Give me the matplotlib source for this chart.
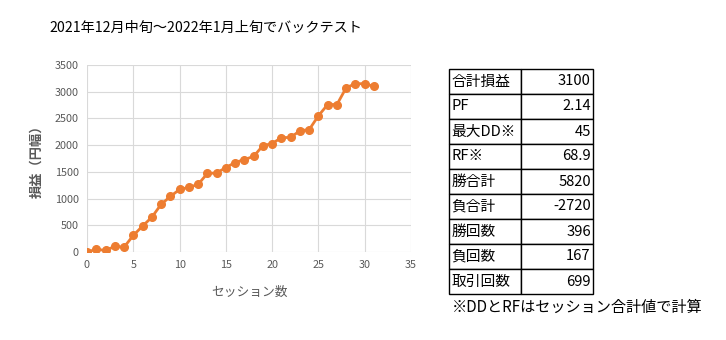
import matplotlib
matplotlib.use("Agg")
import matplotlib.pyplot as plt

plt.rcParams['font.family'] = ['Noto Sans CJK JP', 'DejaVu Sans']

# セッションごとの累積損益
sessions = list(range(32))
pnl = [0, 50, 30, 105, 90, 310, 485, 650, 890, 1040,
       1170, 1210, 1265, 1470, 1480, 1580, 1675, 1730, 1790, 1990,
       2030, 2140, 2145, 2270, 2290, 2550, 2760, 2760, 3075, 3150,
       3150, 3100]

# 集計表
stat_names = ["合計損益", "PF", "最大DD※", "RF※", "勝合計", "負合計", "勝回数", "負回数", "取引回数"]
stat_values = ["3100", "2.14", "45", "68.9", "5820", "-2720", "396", "167", "699"]

title = "2021年12月中旬～2022年1月上旬でバックテスト"
note = "※DDとRFはセッション合計値で計算"

W, H = 726, 340
fig = plt.figure(figsize=(W / 100, H / 100), dpi=100)

ax = fig.add_axes([87 / W, 1 - 252 / H, (411 - 87) / W, (252 - 65) / H])
ax.plot(sessions, pnl, color="#ED7D31", lw=2.0, marker="o", ms=5.5, zorder=3)
ax.set_xlim(0, 35)
ax.set_ylim(0, 3500)
ax.set_xticks(range(0, 36, 5))
ax.set_yticks(range(0, 3501, 500))
ax.grid(color="#d9d9d9", lw=0.8)
ax.set_axisbelow(True)
for s in ax.spines.values():
    s.set_visible(False)
ax.tick_params(length=0, labelsize=7.8, colors="#595959", pad=6)
ax.set_xlabel("セッション数", fontsize=9.2, color="#595959", labelpad=11)
ax.set_ylabel("損益（円幅）", fontsize=9.5, color="#595959", fontweight="bold", labelpad=8)

fig.text(206 / W, 1 - 28 / H, title, ha="center", va="center", fontsize=10.2, color="#000000")

# 右側の表
tax = fig.add_axes([449 / W, 1 - 294 / H, (593 - 449) / W, (294 - 69) / H])
tax.axis("off")
rows = [[n, v] for n, v in zip(stat_names, stat_values)]
tbl = tax.table(cellText=rows, bbox=[0, 0, 1, 1], colWidths=[0.5, 0.5])
tbl.auto_set_font_size(False)
for (r, c), cell in tbl.get_celld().items():
    cell.set_linewidth(1.0)
    cell.set_edgecolor("black")
    cell.get_text().set_fontsize(10.6)
    cell.get_text().set_ha("left" if c == 0 else "right")
    cell.PAD = 0.03

fig.text(452 / W, 1 - 307 / H, note, ha="left", va="center", fontsize=10.9)

fig.savefig("out.png", dpi=100)
